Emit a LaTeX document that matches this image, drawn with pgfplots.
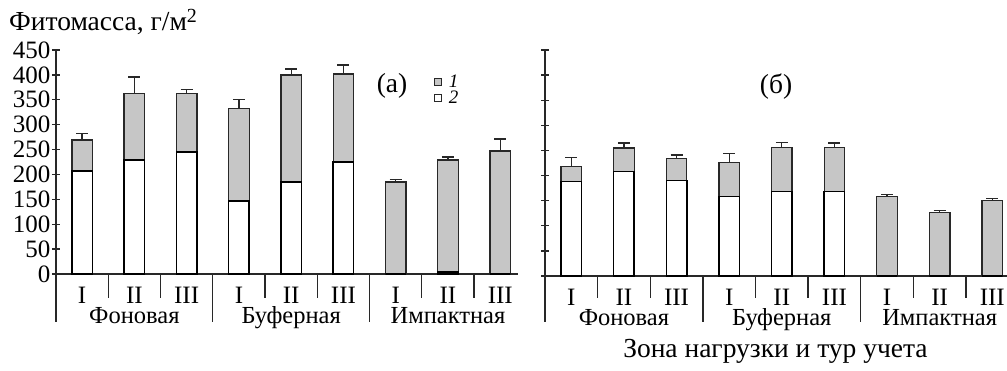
\documentclass[border=0pt]{standalone}
\usepackage{fontspec}
\setmainfont{Liberation Serif}
\usepackage{pgfplots}
\usepackage{pgfplotstable}
\pgfplotsset{compat=1.18}
\definecolor{barg}{RGB}{198,198,198}
\definecolor{ln}{RGB}{40,40,40}
\newcommand\fs{\fontsize{25}{30}\selectfont}
\newcommand\fg{\fontsize{24.5}{28}\selectfont}
\newcommand\ft{\fontsize{27.5}{32}\selectfont}
\newcommand\fl{\fontsize{19}{22}\selectfont}
\tikzset{lab/.style={font=\fg, anchor=base, inner sep=0pt}}

\pgfplotstableread{
x w t e
0 207 269 13
1 229 363 33
2 245 363 8
3 147 332 19
4 185 400 12
5 225 402 18
6 0 185 5
7 4 229 6
8 0 247 24
}\leftdata

\pgfplotstableread{
x w t e
0 188 218 18
1 208 255 10
2 190 234 7
3 158 226 18
4 168 256 10
5 168 256 9
6 0 158 4
7 0 126 5
8 0 150 4
}\rightdata

\pgfplotsset{
  mybars/.style={
    scale only axis, width=462pt,
    xmin=-0.5, ymin=0, ymax=450,
    axis x line=bottom, axis y line=left,
    x axis line style={-}, y axis line style={-},
    axis line style={line width=1.3pt, ln},
    xtick={0,...,8}, xticklabels={I,II,III,I,II,III,I,II,III},
    ytick={0,50,...,450},
    x tick style={draw=none},
    y tick style={line width=1.3pt, ln},
    major tick length=8pt,
    tick label style={font=\fs},
    /pgf/number format/assume math mode=true,
    xticklabel style={anchor=base, yshift=-25pt, inner sep=0pt},
    clip=false,
    bar width=20.5pt,
  },
  totbar/.style={ybar, bar shift=0pt, fill=barg, draw=ln, line width=1.3pt,
    error bars/.cd, y dir=plus, y explicit,
    error bar style={line width=1.3pt, ln},
    error mark options={rotate=90, mark size=6pt, line width=1.3pt, ln}, /pgfplots/.cd},
  whbar/.style={ybar, bar shift=0pt, fill=white, draw=black, line width=1.5pt},
}

\begin{document}
\begin{tikzpicture}
\useasboundingbox (0,0) rectangle (1007pt,-370pt);
\node[anchor=base west, font=\ft, inner sep=0pt] at (9pt,-30pt) {Фитомасса, г/м\raisebox{0.6ex}{\fontsize{20}{20}\selectfont 2}};

\begin{axis}[mybars, at={(56pt,-274pt)}, anchor=south west, height=224pt, xmax=8.34,
  yticklabel style={xshift=2pt},
  legend image code/.code={\draw[#1] (0pt,-3.5pt) rectangle (7pt,3.5pt);},
  legend style={draw=none, fill=none, at={(axis cs:6.73,400)}, anchor=north west,
    font=\fl\itshape, row sep=2pt, inner sep=0pt,
    nodes={inner sep=0pt}, column sep=7pt, cells={anchor=west}},
]
\addplot[forget plot, totbar] table[x=x, y=t, y error=e] {\leftdata};
\addplot[forget plot, whbar] table[x=x, y=w] {\leftdata};
\addlegendimage{fill=barg, draw=ln, line width=0.8pt}
\addlegendentry{1}
\addlegendimage{fill=white, draw=ln, line width=0.8pt}
\addlegendentry{2}
\node[lab, font=\ft] at (axis cs:5.93,364) {(а)};
\pgfplotsinvokeforeach{0.5,1.5,3.5,4.5,6.5,7.5}{
  \draw[line width=1.3pt, ln] (axis cs:#1,0) -- ++(0pt,-24pt);}
\pgfplotsinvokeforeach{-0.5,2.5,5.5}{
  \draw[line width=1.3pt, ln] (axis cs:#1,0) -- ++(0pt,-48pt);}
\node[lab] at ([yshift=-49pt]axis cs:1,0) {Фоновая};
\node[lab] at ([yshift=-49pt]axis cs:4,0) {Буферная};
\node[lab] at ([yshift=-49pt]axis cs:7,0) {Импактная};
\end{axis}

\begin{axis}[mybars, at={(545pt,-276pt)}, anchor=south west, height=226pt, xmax=8.28,
  yticklabels={},
]
\addplot[totbar] table[x=x, y=t, y error=e] {\rightdata};
\addplot[whbar] table[x=x, y=w] {\rightdata};
\node[lab, font=\ft] at (axis cs:3.89,364) {(б)};
\pgfplotsinvokeforeach{0.5,1.5,3.5,4.5,6.5,7.5}{
  \draw[line width=1.3pt, ln] (axis cs:#1,0) -- ++(0pt,-22pt);}
\pgfplotsinvokeforeach{-0.5,2.5,5.5}{
  \draw[line width=1.3pt, ln] (axis cs:#1,0) -- ++(0pt,-46pt);}
\node[lab] at ([yshift=-49pt]axis cs:1,0) {Фоновая};
\node[lab] at ([yshift=-49pt]axis cs:4,0) {Буферная};
\node[lab] at ([yshift=-49pt]axis cs:7,0) {Импактная};
\node[lab, font=\ft] at ([yshift=-81pt]axis cs:3.88,0) {Зона нагрузки и тур учета};
\end{axis}
\end{tikzpicture}
\end{document}
